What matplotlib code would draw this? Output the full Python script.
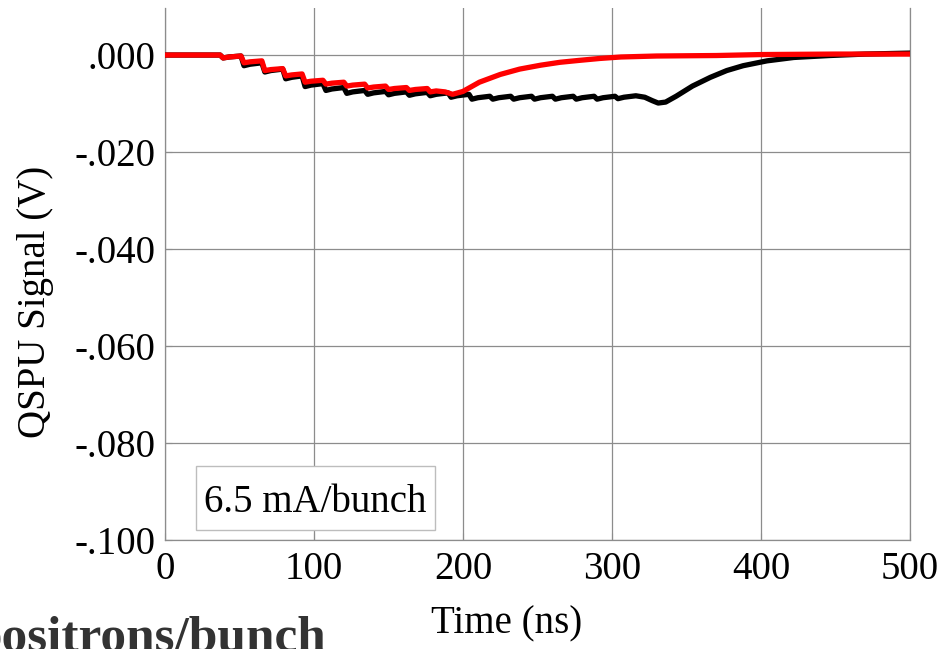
import matplotlib
matplotlib.use("Agg")
import matplotlib.pyplot as plt
from matplotlib.patches import Rectangle
from matplotlib.ticker import FuncFormatter

# Beam-induced QSPU signal vs time (two measurements)
black_t = [0, 37,
           39, 43, 51, 53, 57, 65, 67, 71, 79, 81, 85, 92, 94, 98, 106,
           108, 112, 120, 122, 126, 134, 136, 140, 148, 150, 154, 162,
           164, 168, 176, 178, 182, 190, 192, 196, 204, 206, 210, 218,
           220, 224, 232, 234, 238, 246, 248, 252, 260, 262, 266, 274,
           276, 280, 288, 290, 294, 302, 304, 308, 316,
           322, 327, 331, 336, 343, 354, 366, 377, 388, 404, 422, 446, 470, 500]
black_v = [0.0000, 0.0000,
           -0.0006, -0.0004, -0.0002, -0.0022, -0.0019, -0.0016,
           -0.0035, -0.0032, -0.0029, -0.0049, -0.0046, -0.0043,
           -0.0065, -0.0062, -0.0059, -0.0073, -0.0070, -0.0067,
           -0.0079, -0.0076, -0.0073, -0.0081, -0.0078, -0.0075,
           -0.0082, -0.0079, -0.0076, -0.0083, -0.0080, -0.0077,
           -0.0084, -0.0081, -0.0078, -0.0087, -0.0084, -0.0081,
           -0.0091, -0.0088, -0.0085, -0.0091, -0.0088, -0.0085,
           -0.0091, -0.0088, -0.0085, -0.0091, -0.0088, -0.0085,
           -0.0091, -0.0088, -0.0085, -0.0091, -0.0088, -0.0085,
           -0.0091, -0.0088, -0.0085, -0.0090, -0.0087, -0.0084,
           -0.0087, -0.0094, -0.0099, -0.0097, -0.0085, -0.0064, -0.0046,
           -0.0032, -0.0022, -0.0012, -0.0005, -0.0001, 0.0002, 0.0004]

red_t = [0, 37,
         39, 43, 51, 53, 57, 65, 67, 71, 79, 81, 85, 92, 94, 98, 106,
         108, 112, 120, 122, 126, 134, 136, 140, 148, 150, 154, 162,
         164, 168, 176, 178, 182, 188,
         193, 200, 211, 225, 238, 252, 265, 278, 292, 306, 330, 370, 400, 450, 500]
red_v = [0.0000, 0.0000,
         -0.0006, -0.0004, -0.0002, -0.0016, -0.0014, -0.0012,
         -0.0032, -0.0030, -0.0028, -0.0043, -0.0041, -0.0039,
         -0.0056, -0.0054, -0.0052, -0.0060, -0.0058, -0.0056,
         -0.0064, -0.0062, -0.0060, -0.0068, -0.0066, -0.0064,
         -0.0071, -0.0069, -0.0067, -0.0073, -0.0071, -0.0069,
         -0.0076, -0.0074, -0.0076,
         -0.0081, -0.0075, -0.0056, -0.0040, -0.0029, -0.0021, -0.0015,
         -0.0011, -0.0007, -0.0004, -0.0002, -0.0001, 0.0001, 0.0002, 0.0002]

x_ticks = [0, 100, 200, 300, 400, 500]
y_ticks = [0.0, -0.02, -0.04, -0.06, -0.08, -0.10]

current_label = "6.5 mA/bunch"
species_label = "positrons/bunch"

serif = ["Liberation Serif", "DejaVu Serif"]
plt.rcParams["font.family"] = serif

W, H = 947, 649
fig = plt.figure(figsize=(W / 100, H / 100), dpi=100)
ax = fig.add_axes([165 / W, (H - 540) / H, 745 / W, 532 / H])

grid_c = "#8c8c8c"
ax.plot(black_t, black_v, color="black", lw=3.8, solid_joinstyle="round", zorder=3)
ax.plot(red_t, red_v, color="#ff0000", lw=3.8, solid_joinstyle="round", zorder=4)

ax.set_xlim(0, 500)
ax.set_ylim(-0.100, 0.0097)
ax.set_xticks(x_ticks)
ax.set_yticks(y_ticks)


def fmt_y(v, pos):
    s = f"{v:.3f}"
    if s.startswith("-0"):
        return "-" + s[2:]
    if s.startswith("0"):
        return s[1:]
    return s


ax.yaxis.set_major_formatter(FuncFormatter(fmt_y))
ax.tick_params(axis="both", direction="in", length=5, color=grid_c,
               labelsize=28, labelcolor="black")
ax.tick_params(axis="x", pad=8)
ax.tick_params(axis="y", pad=7)

ax.grid(True, color=grid_c, lw=0.9)
ax.set_axisbelow(True)
for side in ("left", "right", "bottom"):
    ax.spines[side].set_color(grid_c)
    ax.spines[side].set_linewidth(0.9)
ax.spines["top"].set_visible(False)

ax.set_xlabel("Time (ns)", fontsize=28)
ax.xaxis.set_label_coords((507 - 165) / 745, (540 - 605) / 532)
ax.set_ylabel("QSPU Signal (V)", fontsize=28)
ax.yaxis.set_label_coords((54 - 165) / 745, (540 - 302) / 532)

# annotation box
x0, x1 = (196 - 165) / 745, (435 - 165) / 745
y0, y1 = (540 - 530) / 532, (540 - 466) / 532
ax.add_patch(Rectangle((x0, y0), x1 - x0, y1 - y0, transform=ax.transAxes,
                       facecolor="white", edgecolor="#bdbdbd", lw=1.0, zorder=5))
ax.text((x0 + x1) / 2, (540 - 512) / 532, current_label, transform=ax.transAxes,
        ha="center", va="baseline", fontsize=28, zorder=6)

fig.text(326 / W, (H - 651) / H, species_label, ha="right", va="baseline",
         fontsize=37, fontweight="bold", color="#333333")

fig.savefig("out.png", dpi=100)
